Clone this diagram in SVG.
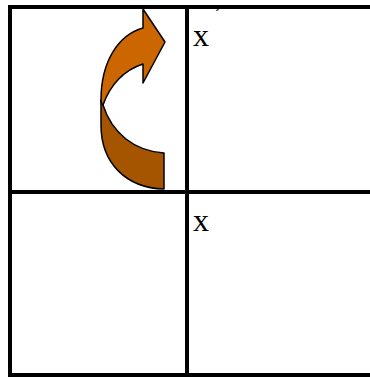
<svg xmlns="http://www.w3.org/2000/svg" width="370" height="377" viewBox="0 0 370 377">
<style>
.g{stroke:#000;stroke-width:4;fill:none}
.a{stroke:#000;stroke-width:1.5;stroke-linejoin:round}
.t{font-family:"Liberation Serif","Times New Roman",serif;fill:#000}
</style>
<rect width="370" height="377" fill="#fff"/>
<g id="grid">
<path class="g" d="M370 7H10V375H370M187 7V375M10 192H370"/>
</g>
<g id="arrow">
<path class="a" fill="#a55400" d="M103 105C112 133 134 151 164 153V189C126 188 101 163 101 125V100Z"/>
<path class="a" fill="#cc6600" d="M143 9L165 42L143 83V64C124 70 110 85 103 105C101 104 101 102 101 100C101 62 118 35 143 28Z"/>
</g>
<g id="label-x-prime">
<text class="t" x="193" y="46" font-size="32">x</text>
<text class="t" x="214" y="20" font-size="24">’</text>
</g>
<g id="label-x">
<text class="t" x="193" y="231" font-size="32">x</text>
</g>
</svg>
